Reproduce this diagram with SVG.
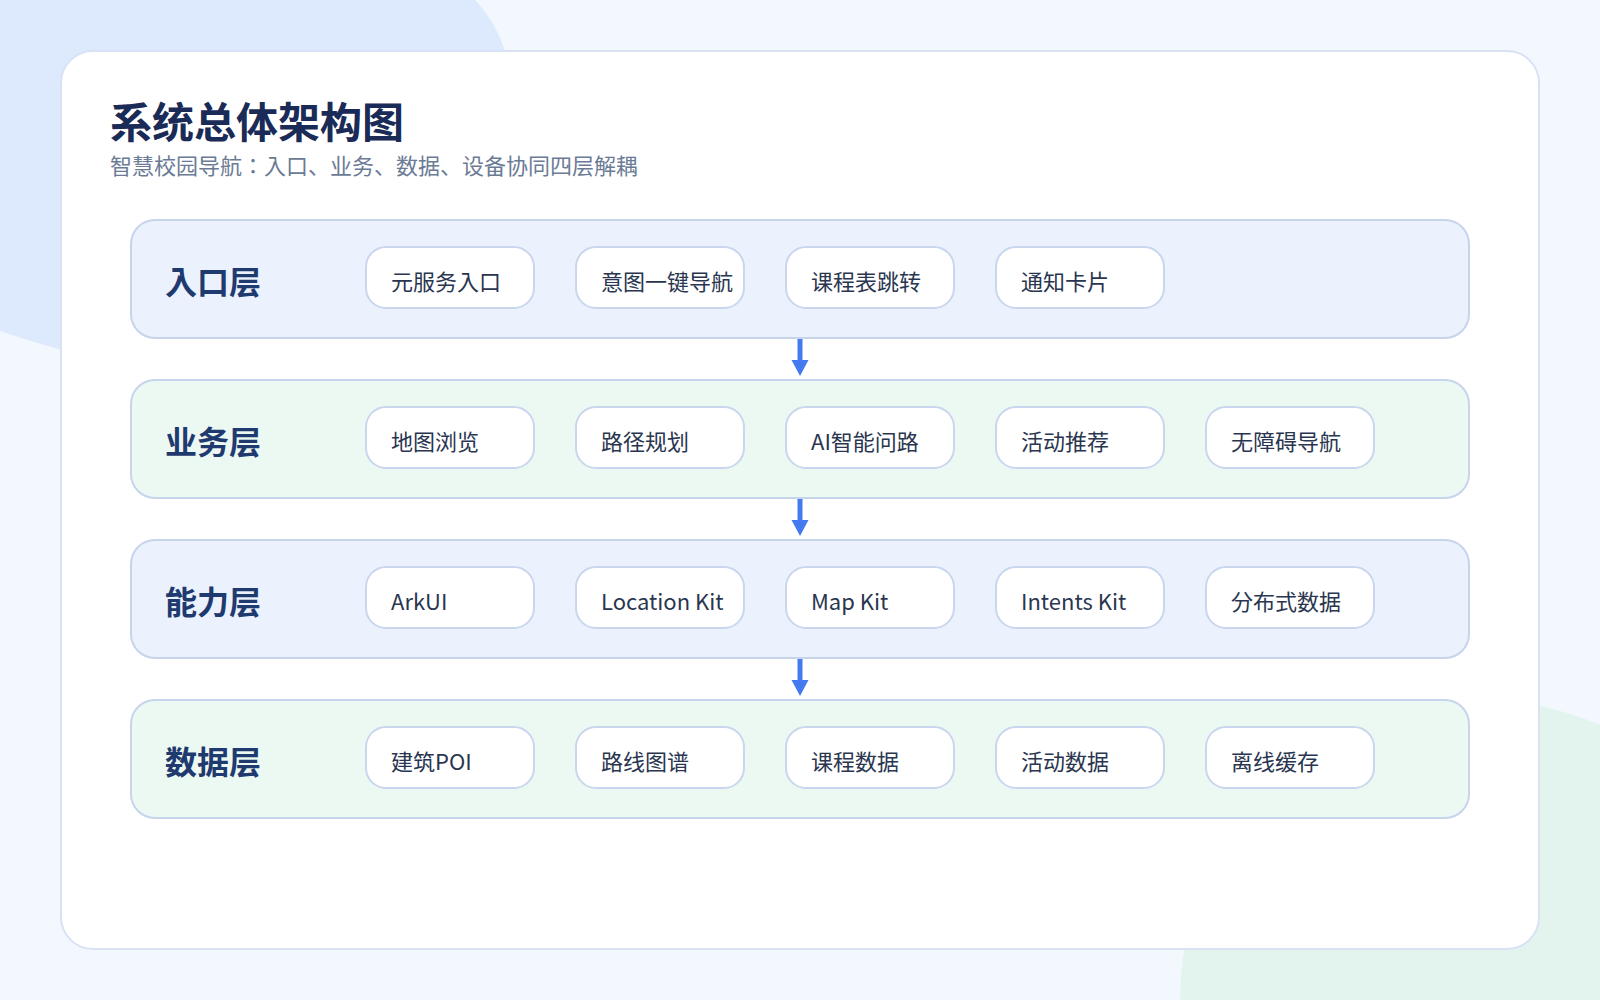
<svg xmlns="http://www.w3.org/2000/svg" width="1600" height="1000" viewBox="0 0 1600 1000">
<defs>
<style>
.bg{fill:#f3f7fe}
.blob1{fill:#dde9fc}
.blob2{fill:#e3f4ee}
.card{fill:#ffffff;stroke:#d9e2f4;stroke-width:2}
.title{font-family:"Noto Sans CJK JP","Noto Sans CJK SC","Noto Sans",sans-serif;font-weight:700;font-size:42px;fill:#1a2b57}
.sub{font-family:"Noto Sans CJK JP","Noto Sans CJK SC","Noto Sans",sans-serif;font-size:22px;fill:#6b7b95}
.lb{fill:#ebf2fe;stroke:#c6d4ec;stroke-width:2}
.lg{fill:#ecf9f3;stroke:#c6d4ec;stroke-width:2}
.ltxt{font-family:"Noto Sans CJK JP","Noto Sans CJK SC","Noto Sans",sans-serif;font-weight:700;font-size:32px;fill:#1f3a6f}
.pill{fill:#ffffff;stroke:#c9d6ee;stroke-width:2}
.ptxt{font-family:"Noto Sans CJK JP","Noto Sans CJK SC","Noto Sans",sans-serif;font-size:22px;fill:#2a3650}
.arr{stroke:#4479f0;stroke-width:5;fill:none}
.head{fill:#4479f0}
</style>
</defs>
<rect class="bg" x="0" y="0" width="1600" height="1000"/>
<path class="blob1" d="M0,0 H475 C492,18 500,35 508,60 C520,100 530,160 520,220 L300,380 L100,360 Q50,348 0,331 Z"/>
<circle class="blob2" cx="1480" cy="1000" r="300"/>
<rect class="card" x="61" y="51" width="1478" height="898" rx="32"/>
<text class="title" x="110" y="138">系统总体架构图</text>
<text class="sub" x="110" y="174">智慧校园导航：入口、业务、数据、设备协同四层解耦</text>

<g id="connectors">
<line class="arr" x1="800" y1="339" x2="800" y2="362"/>
<polygon class="head" points="791.5,360 808.5,360 800,376"/>
<line class="arr" x1="800" y1="499" x2="800" y2="522"/>
<polygon class="head" points="791.5,520 808.5,520 800,536"/>
<line class="arr" x1="800" y1="659" x2="800" y2="682"/>
<polygon class="head" points="791.5,680 808.5,680 800,696"/>
</g>

<g id="layer-entry">
<rect class="lb" x="131" y="220" width="1338" height="118" rx="24"/>
<text class="ltxt" x="165" y="294">入口层</text>
<g id="n-entry-1"><rect class="pill" x="366" y="247" width="168" height="61" rx="20"/><text class="ptxt" x="391" y="290">元服务入口</text></g>
<g id="n-entry-2"><rect class="pill" x="576" y="247" width="168" height="61" rx="20"/><text class="ptxt" x="601" y="290">意图一键导航</text></g>
<g id="n-entry-3"><rect class="pill" x="786" y="247" width="168" height="61" rx="20"/><text class="ptxt" x="811" y="290">课程表跳转</text></g>
<g id="n-entry-4"><rect class="pill" x="996" y="247" width="168" height="61" rx="20"/><text class="ptxt" x="1021" y="290">通知卡片</text></g>
</g>

<g id="layer-business">
<rect class="lg" x="131" y="380" width="1338" height="118" rx="24"/>
<text class="ltxt" x="165" y="454">业务层</text>
<g id="n-biz-1"><rect class="pill" x="366" y="407" width="168" height="61" rx="20"/><text class="ptxt" x="391" y="450">地图浏览</text></g>
<g id="n-biz-2"><rect class="pill" x="576" y="407" width="168" height="61" rx="20"/><text class="ptxt" x="601" y="450">路径规划</text></g>
<g id="n-biz-3"><rect class="pill" x="786" y="407" width="168" height="61" rx="20"/><text class="ptxt" x="811" y="450">AI智能问路</text></g>
<g id="n-biz-4"><rect class="pill" x="996" y="407" width="168" height="61" rx="20"/><text class="ptxt" x="1021" y="450">活动推荐</text></g>
<g id="n-biz-5"><rect class="pill" x="1206" y="407" width="168" height="61" rx="20"/><text class="ptxt" x="1231" y="450">无障碍导航</text></g>
</g>

<g id="layer-capability">
<rect class="lb" x="131" y="540" width="1338" height="118" rx="24"/>
<text class="ltxt" x="165" y="614">能力层</text>
<g id="n-cap-1"><rect class="pill" x="366" y="567" width="168" height="61" rx="20"/><text class="ptxt" x="391" y="610">ArkUI</text></g>
<g id="n-cap-2"><rect class="pill" x="576" y="567" width="168" height="61" rx="20"/><text class="ptxt" x="601" y="610">Location Kit</text></g>
<g id="n-cap-3"><rect class="pill" x="786" y="567" width="168" height="61" rx="20"/><text class="ptxt" x="811" y="610">Map Kit</text></g>
<g id="n-cap-4"><rect class="pill" x="996" y="567" width="168" height="61" rx="20"/><text class="ptxt" x="1021" y="610">Intents Kit</text></g>
<g id="n-cap-5"><rect class="pill" x="1206" y="567" width="168" height="61" rx="20"/><text class="ptxt" x="1231" y="610">分布式数据</text></g>
</g>

<g id="layer-data">
<rect class="lg" x="131" y="700" width="1338" height="118" rx="24"/>
<text class="ltxt" x="165" y="774">数据层</text>
<g id="n-data-1"><rect class="pill" x="366" y="727" width="168" height="61" rx="20"/><text class="ptxt" x="391" y="770">建筑POI</text></g>
<g id="n-data-2"><rect class="pill" x="576" y="727" width="168" height="61" rx="20"/><text class="ptxt" x="601" y="770">路线图谱</text></g>
<g id="n-data-3"><rect class="pill" x="786" y="727" width="168" height="61" rx="20"/><text class="ptxt" x="811" y="770">课程数据</text></g>
<g id="n-data-4"><rect class="pill" x="996" y="727" width="168" height="61" rx="20"/><text class="ptxt" x="1021" y="770">活动数据</text></g>
<g id="n-data-5"><rect class="pill" x="1206" y="727" width="168" height="61" rx="20"/><text class="ptxt" x="1231" y="770">离线缓存</text></g>
</g>
</svg>
